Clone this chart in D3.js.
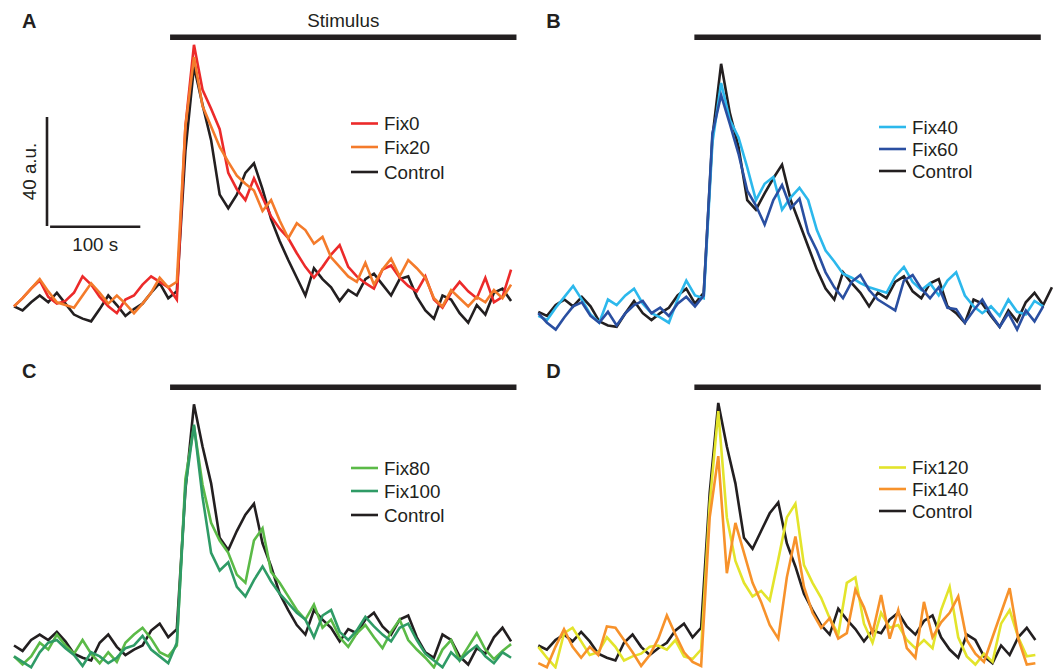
<!DOCTYPE html>
<html>
<head>
<meta charset="utf-8">
<script src="https://cdn.jsdelivr.net/npm/d3@7/dist/d3.min.js"></script>
<style>
  body { margin: 0; background: #fff; }
  svg { font-family: 'Liberation Sans', Arial, Helvetica, sans-serif; }
</style>
</head>
<body>
<svg id="chart"></svg>
<script>
// sample interval (s); panel B was sampled a little slower
const dt = 9.5;
const dtB = 9.65;
const stimOn = 173;
const stimOff = 557;

// panel A
const fix0 = [5, 8, 11.5, 14.5, 8.5, 6, 7, 10, 16, 13, 8.5, 5, 2.5, 7.5, 9, 13, 16, 14, 12, 7.5,
  71, 101, 84.5, 77.5, 70, 54, 48, 44, 52, 45, 38, 33.5, 30, 24.5, 19.5, 15.5, 19.5, 24, 27.5, 19.5,
  16, 13.5, 11.5, 18.5, 20, 15.5, 12.5, 10.5, 16, 7.5, 4.5, 10, 14, 10.5, 8, 15.5, 6.5, 8.5, 18.5];
const fix20 = [5, 8, 11.5, 15, 10.5, 6.5, 5.5, 4.5, 9, 13.5, 10, 6, 9, 6, 2.5, 6, 10, 15.5, 12, 14,
  71, 96.5, 78.5, 71, 63.5, 58, 53, 50, 47.5, 40, 44, 36.5, 30, 35.5, 33, 28, 30.5, 23, 19.5, 16,
  14, 21, 13, 18.5, 22.5, 16, 22, 19, 15.5, 8, 5, 11, 8, 5, 8.5, 6.5, 11, 8, 13];
const controlA = [5, 3.5, 6.5, 9, 6.5, 10, 6, 2, 0.5, -0.5, 4, 9, 5.5, 1.5, 4, 6, 10, 13.5, 8, 10.5,
  62, 93, 79, 66, 46, 41, 46, 54, 57.5, 48, 37, 29, 22, 15.5, 9, 19, 15, 12, 7, 11,
  9, 15, 17, 13, 9, 15, 16, 8.5, 3.5, 0.5, 9, 7.5, 2.5, -1, 5.5, 2, 10, 11.5, 7];

// panel B
const fix40 = [1.5, 0, 4.5, 8.5, 12.5, 7.5, 2, -1, 7.5, 5.5, 9, 11.5, 6, 2.5, 1, -1, 7.5, 14.5, 9, 8,
  65, 87, 73.5, 67, 56, 44, 50, 52.5, 40.5, 45, 48.5, 44, 33, 25.5, 21.5, 17, 15.5, 13.5, 12, 11,
  10, 16, 19.5, 14, 11, 13.5, 9, 14.5, 17.5, 9, 5, 2.5, 5, 1.5, 7.5, 3, 2, 7, 5];
const fix60 = [2.5, -1, -3.5, 1, 5, 6.5, 1.5, -1, 3, -2, 2.5, 5.5, 7, 2.5, 4.5, 1.5, 6, 8.5, 5, 9,
  68.5, 82.5, 72, 61, 47.5, 42, 35, 44, 49.5, 41, 44.5, 32, 25.5, 17.5, 12, 8, 14, 16.5, 11, 7.5,
  5.5, 3.5, 14.5, 16.5, 11.5, 8, 12, 4.5, 4, -1, 3.5, 7.5, 2, -2.5, 2.5, -3.5, 3.5, -0.5, 5];
const controlB = [3, 1.5, 5.5, 7.5, 5, 8.5, 5, -0.5, -2, -2.5, 2.5, 7, 2.5, 0, 2.5, 4.5, 9, 11.5, 6, 10,
  67, 94, 76, 63.5, 44, 40.5, 46.5, 52, 57, 44, 35.5, 27, 18.5, 11.5, 7.5, 17.5, 13.5, 10, 5, 10,
  8, 14, 16, 10.5, 8, 13.5, 15, 5, 2.5, -1, 7.5, 6, 1.5, -2.5, 3.5, -0.5, 6.5, 10, 5.5, 12];

// panel C
const fix80 = [5, 2, 5, 10, 7.5, 13, 9, 6, 11, 6, 2.5, 6.5, 3, 10, 13, 15.5, 11.5, 6.5, 5, 9,
  70, 89.5, 68, 54, 47.5, 43, 35, 32, 47.5, 52, 36, 32, 27, 22, 18.5, 24, 15.5, 18.5, 12, 8.5,
  13.5, 16.5, 12, 8, 14, 18.5, 11, 7.5, 4.5, 1, 7.5, 11, 3.5, 8.5, 13.5, 7.5, 4, 7, 9.5];
const fix100 = [5, 3, 1, 6.5, 10, 11, 8, 5.5, 1.5, 6.5, 5, 2.5, 4.5, 8, 9, 12.5, 7.5, 5, 2.5, 10,
  67, 90, 63.5, 43, 36.5, 39.5, 30.5, 27, 33, 38, 32.5, 28, 24.5, 21, 18.5, 12, 20, 22, 14, 11,
  14.5, 19.5, 16, 13, 10.5, 15.5, 17, 11, 6, 3.5, 1, 6.5, 3.5, 6.5, 9, 5, 2.5, 6.5, 4.5];
const controlC = [9, 7, 11, 13, 11, 14, 10.5, 6, 4.5, 3.5, 10, 13, 8.5, 5.5, 7.5, 9, 14.5, 17, 12, 15,
  66, 97.5, 82, 68.5, 48.5, 44, 51, 57, 61, 46.5, 38, 28, 22, 16.5, 13, 22, 18.5, 15.5, 10.5, 15,
  13.5, 18.5, 21, 16, 13, 18.5, 20, 12, 6.5, 4.5, 13, 11, 5, 2, 8, 6, 12, 15.5, 10.5];

// panel D
const fix120 = [8.5, 4.5, 1, 13.5, 15.5, 10.5, 5.5, 6.5, 12, 8.5, 3.5, 5, 6, 8.5, 9, 7.5, 11, 5, 4, 7.5,
  61, 95, 56, 40, 32, 27, 29, 25.5, 40.5, 56, 61, 38.5, 32, 26.5, 19, 13, 32, 34, 17, 10,
  21, 15.5, 16.5, 11, 8, 11, 8, 22, 30.5, 12, 5, 2, 6, 3, 17, 22, 12, 5, 5.5];
const fix140 = [2.5, 1, 8.5, 15, 8.5, 4.5, 8.5, 5.5, 16, 15.5, 11, 6.5, 1.5, 5.5, 11.5, 20, 13, 6.5, 3, 1.5,
  56, 78.5, 35.5, 54, 43, 32, 25, 16.5, 11.5, 34, 49, 30.5, 21, 15.5, 19, 11.5, 13.5, 29.5, 23, 13.5,
  27.5, 11.5, 22, 8, 4.5, 25, 12, 17.5, 21, 27, 11, 6, 3, 12, 21, 30, 11.5, 2, 2.5];
const controlD = [9, 7.5, 11, 13, 10.5, 14, 10.5, 6, 4.5, 3.5, 10, 13, 8.5, 5.5, 8, 10, 14.5, 17, 12, 15.5,
  65, 98, 82, 68.5, 48.5, 44.5, 51, 57.5, 61.5, 46.5, 38, 28, 22, 16.5, 13, 22.5, 18.5, 15, 10.5, 14.5,
  13.5, 18.5, 21, 16, 13, 18, 20, 12, 7.5, 4.5, 13, 11, 5, 2.5, 9, 5.5, 12, 15.5, 11];

const panelLetters = ['A', 'B', 'C', 'D'];
const legendNames = [['Fix0', 'Fix20'], ['Fix40', 'Fix60'], ['Fix80', 'Fix100'], ['Fix120', 'Fix140']];
const scaleBarTime = 100;   // s
const scaleBarAmp = 40;     // a.u.

const colors = {
      Control: '#231f20',
      Fix0: '#ec2a2a', Fix20: '#f47b2b',
      Fix40: '#2cb8ec', Fix60: '#2a4fa1',
      Fix80: '#5bba47', Fix100: '#2f9b66',
      Fix120: '#e3e42b', Fix140: '#f7922b'
};

const width = 1053, height = 669;
const svg = d3.select('#chart').attr('width', width).attr('height', height);

// layout: columns and rows
const cols = [14, 538.3];
const rows = [320, 670];
const pxPerSec = 8.57 / 9.5;
const pxPerAu = 2.725;

const panels = [
      { letter: 0, col: 0, row: 0, dt: dt, fix: [fix0, fix20], control: controlA, legend: [351, [123.5, 147, 172]] },
      { letter: 1, col: 1, row: 0, dt: dtB, fix: [fix40, fix60], control: controlB, legend: [879, [127, 149, 171]] },
      { letter: 2, col: 0, row: 1, dt: dt, fix: [fix80, fix100], control: controlC, legend: [351, [468, 491, 515]] },
      { letter: 3, col: 1, row: 1, dt: dt, fix: [fix120, fix140], control: controlD, legend: [879, [467.5, 489, 511]] }
];

const line = (x, y, step) => d3.line()
      .x((d, i) => x(i * step))
      .y(d => y(d));

panels.forEach(p => {
      const x = d3.scaleLinear()
            .domain([0, 560])
            .range([cols[p.col], cols[p.col] + 560 * pxPerSec]);
      const y = d3.scaleLinear()
            .domain([0, 100])
            .range([rows[p.row], rows[p.row] - 100 * pxPerAu]);
      const g = svg.append('g');
      const names = legendNames[p.letter];

      // stimulus bar
      const barY = rows[p.row] - 282.7;
      g.append('line')
            .attr('x1', x(stimOn)).attr('x2', x(stimOff))
            .attr('y1', barY).attr('y2', barY)
            .attr('stroke', '#231f20')
            .attr('stroke-width', 5.4);

      g.append('text')
            .attr('x', cols[p.col] + 8)
            .attr('y', rows[p.row] - 292)
            .attr('font-size', 20)
            .attr('font-weight', 'bold')
            .attr('fill', '#231f20')
            .text(panelLetters[p.letter]);

      const series = [
            { name: 'Control', values: p.control },
            { name: names[0], values: p.fix[0] },
            { name: names[1], values: p.fix[1] }
      ];

      g.selectAll('path.trace')
            .data(series)
            .enter()
            .append('path')
            .attr('class', 'trace')
            .attr('d', s => line(x, y, p.dt)(s.values))
            .attr('fill', 'none')
            .attr('stroke', s => colors[s.name])
            .attr('stroke-width', 2.6)
            .attr('stroke-linejoin', 'miter');

      // legend: fixes first, control last
      const legendItems = [series[1], series[2], series[0]];
      const lg = g.selectAll('g.legend')
            .data(legendItems)
            .enter()
            .append('g')
            .attr('class', 'legend')
            .attr('transform', (d, i) => `translate(${p.legend[0]},${p.legend[1][i]})`);
      lg.append('line')
            .attr('x1', 0).attr('x2', 27)
            .attr('stroke', d => colors[d.name])
            .attr('stroke-width', 2.6);
      lg.append('text')
            .attr('x', 33)
            .attr('y', 6.6)
            .attr('font-size', 18.8)
            .attr('fill', '#231f20')
            .text(d => d.name);

      if (p.letter === 0) {
            g.append('text')
                  .attr('x', (x(stimOn) + x(stimOff)) / 2)
                  .attr('y', 27)
                  .attr('text-anchor', 'middle')
                  .attr('font-size', 18.8)
                  .attr('fill', '#231f20')
                  .text('Stimulus');

            // scale bars
            const sbY = y(34.5);
            g.append('line')
                  .attr('x1', 47).attr('x2', 47)
                  .attr('y1', sbY).attr('y2', y(34.5 + scaleBarAmp))
                  .attr('stroke', '#231f20')
                  .attr('stroke-width', 2.6);
            g.append('line')
                  .attr('x1', x(40)).attr('x2', x(40 + scaleBarTime))
                  .attr('y1', sbY + 0.8).attr('y2', sbY + 0.8)
                  .attr('stroke', '#231f20')
                  .attr('stroke-width', 2.6);
            g.append('text')
                  .attr('transform', `translate(36,${(sbY + y(34.5 + scaleBarAmp)) / 2}) rotate(-90)`)
                  .attr('text-anchor', 'middle')
                  .attr('font-size', 18.8)
                  .attr('fill', '#231f20')
                  .text(scaleBarAmp + ' a.u.');
            g.append('text')
                  .attr('x', (x(40) + x(40 + scaleBarTime)) / 2)
                  .attr('y', sbY + 25)
                  .attr('text-anchor', 'middle')
                  .attr('font-size', 18.8)
                  .attr('fill', '#231f20')
                  .text(scaleBarTime + ' s');
      }
});
</script>
</body>
</html>
